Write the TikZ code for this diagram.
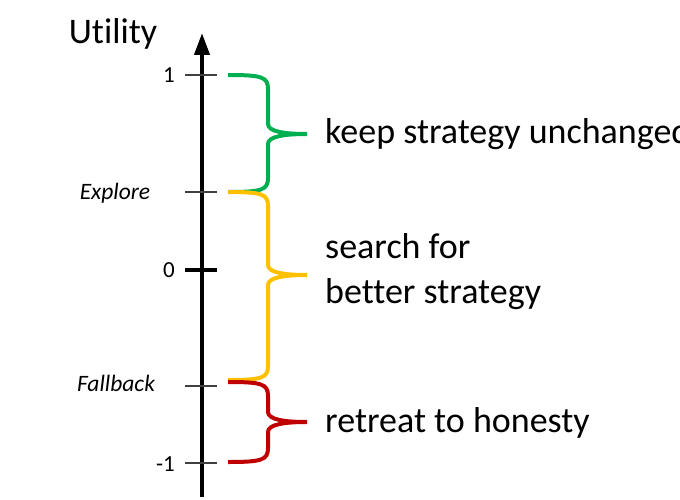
\documentclass[tikz,border=0pt]{standalone}
\usepackage{fontspec}
\setmainfont{Carlito}[Ligatures=NoCommon]
\usetikzlibrary{arrows.meta}
\usetikzlibrary{positioning}

\definecolor{keepgreen}{RGB}{0,176,80}
\definecolor{searchyellow}{RGB}{255,192,0}
\definecolor{retreatred}{RGB}{192,0,0}

% brace: colour, top, tip, bottom, name of tip
\newcommand{\stratbrace}[5]{%
  \draw[bracestroke,#1] (228,#2) .. controls (262,#2) and (268,#2+2) .. (268,#2+14)
    -- (268,#3-10) .. controls (268,#3-2) and (286,#3) .. (307,#3)
    .. controls (286,#3) and (268,#3+2) .. (268,#3+10)
    -- (268,#4-14) .. controls (268,#4-2) and (262,#4) .. (228,#4);
  \coordinate (#5) at (307,#3);}

\begin{document}
\begin{tikzpicture}[x=1pt,y=-1pt,
	axis/.style={line width=4pt,-{Triangle[length=22pt,width=15pt]}},
	tickmark/.style={line width=1.3pt,black!75},
	ticklabel/.style={font=\fontsize{23}{27}\selectfont,anchor=east,inner sep=0pt},
	levelname/.style={font=\itshape\fontsize{23.5}{27}\selectfont,inner sep=0pt},
	bracestroke/.style={line width=4pt},
	bracelabel/.style={font=\fontsize{36}{45}\selectfont,align=left,inner sep=0pt}]
	
	\useasboundingbox (0,0) rectangle (680,500);
	\fill[white] (0,0) rectangle (680,500);
	
	% axis
	\coordinate (bottom) at (202,497);
	\coordinate (top) at (202,33);
	\draw[axis] (bottom) -- (top);
	\node[font=\fontsize{36}{42}\selectfont,inner sep=0pt] (utility) at (113,34) {Utility};
	
	% ticks
	\foreach \y in {75,192,386,463}
	\draw[tickmark] (185,\y) -- (217,\y);
	\draw[line width=3.5pt] (185,270) -- (217,270);
	
	\node[ticklabel] (one) at (175,75) {1};
	\node[ticklabel] (zero) at (175,270) {0};
	\node[ticklabel] (minusone) at (175,464) {-1};
	\node[levelname] (explore) at (115,193) {Explore};
	\node[levelname] (fallback) at (116,383) {Fallback};
	
	% braces
	\stratbrace{keepgreen}{75}{134}{192}{keep}
	\stratbrace{searchyellow}{192}{275}{380}{search}
	\stratbrace{retreatred}{382}{422}{462}{retreat}
	
	\node[bracelabel,anchor=west] (keeptext) [right=18pt of keep] {keep strategy unchanged};
	\node[bracelabel,anchor=west] (searchtext) [right=18pt of search, yshift=3pt] {search for\\better strategy};
	\node[bracelabel,anchor=west] (retreattext) [right=18pt of retreat, yshift=-1pt] {retreat to honesty};
\end{tikzpicture}
\end{document}
